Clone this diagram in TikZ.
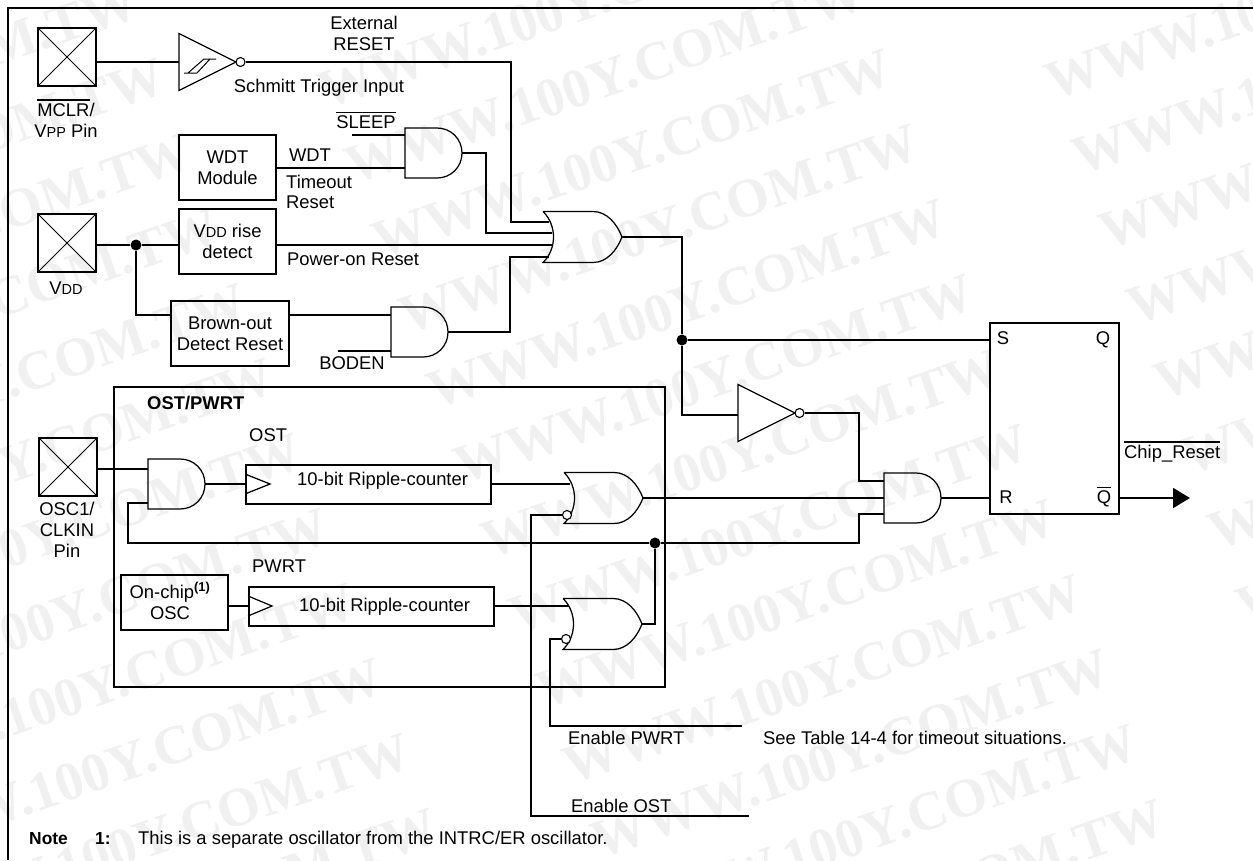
\documentclass[tikz,border=0pt]{standalone}
\usepackage{fontspec}
\setmainfont{Liberation Sans}
\newfontfamily\wmfont{Liberation Serif}
\usepackage{xcolor}
\usetikzlibrary{arrows.meta}
\newcommand{\barred}[1]{\vbox{\hrule height 1.6pt\vskip 2.6pt\hbox{#1}}}
\newcommand{\subcaps}[1]{{\fontsize{14.5}{14.5}\selectfont #1}}
\tikzset{
  wire/.style={line width=2pt},
  gatepen/.style={line width=1.25pt},
  blk/.style={draw, line width=2pt, inner sep=0pt, align=center, font=\fontsize{18.4}{21}\selectfont},
  pad/.style={draw, line width=2pt, minimum size=58pt, inner sep=0pt,
    path picture={\draw[line width=1pt] (path picture bounding box.north west)--(path picture bounding box.south east)
      (path picture bounding box.north east)--(path picture bounding box.south west);}},
  lbl/.style={inner sep=0pt, text height=13.3pt, text depth=0pt, font=\fontsize{18.4}{21}\selectfont},
  stack/.style={inner sep=0pt, align=center, font=\fontsize{18.4}{21}\selectfont},
  dotv/.style={circle, fill, inner sep=0pt, minimum size=11pt},
  bub/.style={circle, draw, fill=white, line width=1.1pt, inner sep=0pt, minimum size=9pt},
  wmark/.style={anchor=north east, rotate=19, inner sep=0pt, text height=36pt, text depth=0pt,
    text=black!6, font=\wmfont\bfseries\fontsize{55}{55}\selectfont},
  andgate/.pic={
    \draw[gatepen] (0,-25) -- (32,-25) .. controls (46,-25) and (57,-14) .. (57,0)
      .. controls (57,14) and (46,25) .. (32,25) -- (0,25) -- cycle;
    \coordinate (-out) at (57,0);
  },
  orgate/.pic={
    \draw[gatepen] (0,-25.5) -- (50,-25.5) .. controls (64,-25.5) and (74,-13) .. (79,0)
      .. controls (74,13) and (64,25.5) .. (50,25.5) -- (0,25.5)
      .. controls (14,12) and (14,-12) .. (0,-25.5);
    \coordinate (-out) at (79,0);
  },
  invgate/.pic={
    \draw[gatepen] (0,-28.5) -- (57,0) -- (0,28.5) -- cycle;
    \coordinate (-in) at (0,0);
    \node[bub] (-o) at (61.5,0) {};
  }
}

\begin{document}
\begin{tikzpicture}[x=1pt,y=-1pt,line cap=butt,line join=miter]
  \path[use as bounding box] (0,0) rectangle (1253,860);

  \foreach \i in {-9,...,3}
    \foreach \j in {-1,0}
      \node[wmark] (wm\i\j) at (1075+27.3*\i+727*\j, 573+75*\i-9*\j) {WWW.100Y.COM.TW};
  \foreach \i in {-9,...,-1}
    \node[wmark] (wmr\i) at (1802+27.3*\i, 564+75*\i) {WWW.100Y.COM.TW};

  \coordinate (framea) at (7.5,860);
  \coordinate (frameb) at (7.5,7.5);
  \coordinate (framec) at (1253,7.5);
  \draw[line width=2pt] (framea)--(frameb)--(framec);

  \node[pad] (mclr) at (67,57) {};
  \node[pad] (vdd) at (67,243) {};
  \node[pad] (osc) at (68,467) {};
  \node[stack] (mclrtxt) at (66,118) {\barred{MCLR}/\\V\subcaps{PP} Pin};
  \node[lbl] (vddtxt) at (66,288) {V\subcaps{DD}};
  \node[stack] (osctxt) at (67,530) {OSC1/\\CLKIN\\Pin};

  \node[blk, minimum width=97pt, minimum height=65pt] (wdt) at (227.5,167.5) {WDT\\Module};
  \node[blk, minimum width=97pt, minimum height=65pt] (vdr) at (227.5,241.5) {V\subcaps{DD} rise\\detect};
  \node[blk, minimum width=118pt, minimum height=65pt] (bod) at (230,333.5) {Brown-out\\Detect Reset};
  \node[draw, line width=2pt, minimum width=551pt, minimum height=300pt, inner sep=0pt] (ostbox) at (389.5,537) {};
  \node[blk, minimum width=245pt, minimum height=39pt] (ripa) at (368.5,484) {};
  \node[blk, minimum width=245pt, minimum height=39pt] (ripb) at (371.5,606) {};
  \node[blk, minimum width=107pt, minimum height=55pt] (onchip) at (174.5,602.5) {};
  \node[blk, minimum width=129pt, minimum height=191pt] (ff) at (1054.5,418.5) {};

  \pic (schmitt) at (179,62) {invgate};
  \pic (sleepand) at (405,153) {andgate};
  \pic (bodand) at (391,332) {andgate};
  \pic (mainor) at (543,237) {orgate};
  \pic (rstinv) at (738,413) {invgate};
  \pic (ostand) at (148,484) {andgate};
  \pic (ostor) at (564,498) {orgate};
  \pic (pwrtor) at (563,624) {orgate};
  \pic (finand) at (884,498) {andgate};

  \node[bub] (ostbub) at (567,515) {};
  \node[bub] (pwrtbub) at (566,639) {};
  \node[dotv] (vddtap) at (136,245) {};
  \node[dotv] (split) at (682,340) {};
  \node[dotv] (junc) at (655,543) {};

  \coordinate (mainpa) at (549,222);
  \coordinate (mainpb) at (552,233);
  \coordinate (mainpc) at (553,245);
  \coordinate (mainpd) at (549,257);
  \coordinate (slpfree) at (352,135);
  \coordinate (slppa) at (405,135);
  \coordinate (slppb) at (405,168);
  \coordinate (bodfree) at (338,351);
  \coordinate (bodpa) at (391,315);
  \coordinate (bodpb) at (391,351);
  \coordinate (ostpa) at (148,469);
  \coordinate (ostpb) at (148,503);
  \coordinate (ostorp) at (570,484);
  \coordinate (pwrtorp) at (569,606);
  \coordinate (finpa) at (884,481);
  \coordinate (finpb) at (884,498);
  \coordinate (finpc) at (884,514);
  \coordinate (invp) at (738,415);
  \coordinate (ffs) at (990,340);
  \coordinate (enpwrt) at (742,726);
  \coordinate (enost) at (749,816);
  \coordinate (qout) at (1190,498);

  \draw[wire] (mclr.east |- schmitt-in) -- (schmitt-in);
  \draw[wire] (schmitt-o) -- ++(270.5,0) |- (mainpa);
  \draw[wire] (slpfree) -- (slppa);
  \draw[wire] (wdt.east |- slppb) -- (slppb);
  \draw[wire] (sleepand-out) -- ++(24,0) |- (mainpb);
  \draw[wire] (vdd.east |- vddtap) -- (vddtap);
  \draw[wire] (vddtap) -- (vdr.west |- vddtap);
  \draw[wire] (vdr.east |- vddtap) -- (mainpc);
  \draw[wire] (vddtap) |- (bod.west |- bodpa);
  \draw[wire] (bod.east |- bodpa) -- (bodpa);
  \draw[wire] (bodfree) -- (bodpb);
  \draw[wire] (bodand-out) -- ++(62,0) |- (mainpd);

  \draw[wire] (mainor-out) -| (split);
  \draw[wire] (split) -- (ffs);
  \draw[wire] (split) |- (invp);
  \draw[wire] (rstinv-o) -- ++(59.5,0) |- (finpa);
  \draw[wire] (finand-out) -- (ff.west |- finand-out);
  \draw[wire, -{Triangle[length=17pt,width=20pt]}] (ff.east |- qout) -- (qout);

  \draw[wire] (osc.east |- ostpa) -- (ostpa);
  \draw[wire] (ostand-out) -- (ripa.west);
  \draw[wire] (ripa.east) -- (ostorp);
  \draw[wire] (ostor-out) -- (finpb);
  \draw[wire] (junc) -- ++(-527,0) |- (ostpb);
  \draw[wire] (junc) -- ++(204,0) |- (finpc);
  \draw[wire] (onchip.east |- ripb.west) -- (ripb.west);
  \draw[wire] (ripb.east) -- (pwrtorp);
  \draw[wire] (pwrtor-out) -- ++(12,0) -| (junc);
  \draw[wire] (ostbub) -- ++(-36,0) |- (enost);
  \draw[wire] (pwrtbub) -- ++(-16,0) |- (enpwrt);

  \draw[gatepen] ([yshift=10pt]ripa.west) -- ([xshift=25pt]ripa.west) -- ([yshift=-10pt]ripa.west);
  \draw[gatepen] ([yshift=10pt]ripb.west) -- ([xshift=24pt]ripb.west) -- ([yshift=-10pt]ripb.west);
  \draw[line width=1pt] (184,73)--(197,73)--(210,59)--(216,59) (197,73)--(188,73)--(204,59)--(210,59);

  \node[stack] (extrst) at (364,33) {External\\RESET};
  \node[lbl] (schtxt) at (319,86) {Schmitt Trigger Input};
  \node[lbl] (slptxt) at (366,122) {\barred{SLEEP}};
  \node[lbl] (wdttxt) at (310,155) {WDT};
  \node[lbl, anchor=west] (tmotxt) at (286,182) {Timeout};
  \node[lbl, anchor=west] (rsttxt) at (286,202) {Reset};
  \node[lbl, anchor=west] (pwrtxt) at (287,259) {Power-on Reset};
  \node[lbl] (bodtxt) at (352,363) {BODEN};

  \node[lbl, anchor=west, font=\fontsize{18.4}{21}\selectfont\bfseries] (osttitle) at (147,403) {OST/PWRT};
  \node[lbl, anchor=west] (osttxt) at (249,435) {OST};
  \node[lbl, anchor=west] (pwrttxt) at (252,566) {PWRT};
  \node[lbl, anchor=west] (ripatxt) at (297,479) {10-bit Ripple-counter};
  \node[lbl, anchor=west] (ripbtxt) at (299,605) {10-bit Ripple-counter};
  \node[stack] (onchiptxt) at (170,601) {On-chip\textsuperscript{\textbf{(1)}}\\OSC};

  \node[lbl] (stxt) at (1003,338) {S};
  \node[lbl] (qtxt) at (1103,338) {Q};
  \node[lbl] (rtxt) at (1006,497) {R};
  \node[lbl] (nqtxt) at (1104,497) {\barred{Q}};
  \node[lbl, anchor=west] (chiptxt) at (1124,452) {\barred{Chip\_Reset}};

  \node[lbl, anchor=west] (enptxt) at (568,738) {Enable PWRT};
  \node[lbl, anchor=west] (enotxt) at (571,806) {Enable OST};
  \node[lbl, anchor=west] (seetxt) at (763,738) {See Table 14-4 for timeout situations.};
  \node[lbl, anchor=west, font=\fontsize{17.4}{21}\selectfont\bfseries] (notetxt) at (29,838) {Note};
  \node[lbl, anchor=west, font=\fontsize{17.4}{21}\selectfont\bfseries] (numtxt) at (95,838) {1:};
  \node[lbl, anchor=west] (thistxt) at (138,838) {This is a separate oscillator from the INTRC/ER oscillator.};
\end{tikzpicture}
\end{document}
